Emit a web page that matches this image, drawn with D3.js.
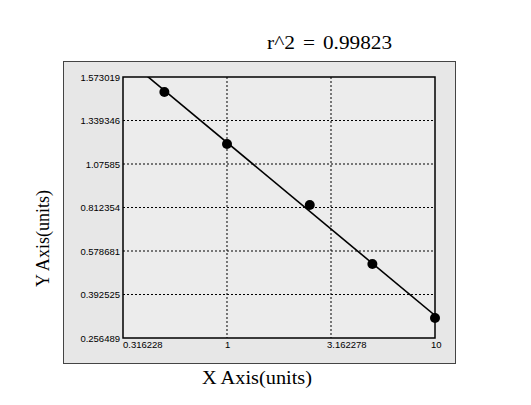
<!DOCTYPE html>
<html>
<head>
<meta charset="utf-8">
<script src="https://cdn.jsdelivr.net/npm/d3@7"></script>
<style>
  body { margin: 0; background: #fff; }
  svg { display: block; }
</style>
</head>
<body>
<div id="chart"></div>
<script>
'use strict';

// standard curve points
const concs  = [0.5, 1, 2.5, 5, 10];
const ods    = [1.492, 1.197, 0.827, 0.523, 0.319];
const xTicks = [0.316228, 1, 3.162278, 10];
const yTicks = [1.573019, 1.339346, 1.07585, 0.812354, 0.578681, 0.392525, 0.256489];
const rsq    = '0.99823';

const W = 531, H = 405;
const plot = {left: 123, top: 77, right: 435, bottom: 338};

const svg = d3.select('#chart')
  .append('svg')
  .attr('width', W)
  .attr('height', H);

// outer grey panel
svg.append('rect')
  .attr('x', 63.5).attr('y', 61.5)
  .attr('width', 392).attr('height', 302)
  .style('fill', '#e7e7e7')
  .style('stroke', '#444')
  .style('stroke-width', 1);

const x = d3.scaleLog()
  .domain([xTicks[0], xTicks[xTicks.length - 1]])
  .range([plot.left, plot.right]);

// y ticks sit at equal steps, so a piecewise linear scale through them
const ySteps = yTicks.map((t, i) => plot.top + i * (plot.bottom - plot.top) / (yTicks.length - 1));
const y = d3.scaleLinear()
  .domain(yTicks)
  .range(ySteps);

svg.append('rect')
  .attr('x', plot.left).attr('y', plot.top)
  .attr('width', plot.right - plot.left)
  .attr('height', plot.bottom - plot.top)
  .style('fill', '#ececec');

svg.append('clipPath').attr('id', 'clip')
  .append('rect')
  .attr('x', plot.left).attr('y', plot.top)
  .attr('width', plot.right - plot.left)
  .attr('height', plot.bottom - plot.top);

// grid
const grid = svg.append('g');
grid.selectAll()
  .data(xTicks.slice(1, -1))
  .enter()
  .append('line')
  .attr('x1', d => x(d)).attr('x2', d => x(d))
  .attr('y1', plot.top).attr('y2', plot.bottom)
  .style('stroke', '#000')
  .style('stroke-width', 1)
  .style('stroke-dasharray', '2,2');
grid.selectAll()
  .data(yTicks.slice(1, -1))
  .enter()
  .append('line')
  .attr('x1', plot.left).attr('x2', plot.right)
  .attr('y1', d => y(d)).attr('y2', d => y(d))
  .style('stroke', '#000')
  .style('stroke-width', 1)
  .style('stroke-dasharray', '2,2');

// fit line: least squares in screen space (log x vs y scale)
const px = concs.map(c => x(c));
const py = ods.map(o => y(o));
const mx = d3.mean(px), my = d3.mean(py);
const slope = d3.sum(px, (v, i) => (v - mx) * (py[i] - my)) / d3.sum(px, v => (v - mx) * (v - mx));
const fitX = [plot.left, plot.right];
svg.append('g').attr('clip-path', 'url(#clip)')
  .append('line')
  .attr('x1', fitX[0]).attr('x2', fitX[1])
  .attr('y1', my + slope * (fitX[0] - mx))
  .attr('y2', my + slope * (fitX[1] - mx))
  .style('stroke', '#000')
  .style('stroke-width', 1.6);

// points
svg.append('g').selectAll()
  .data(concs.map((c, i) => ({c: c, o: ods[i]})))
  .enter()
  .append('circle')
  .attr('cx', d => x(d.c))
  .attr('cy', d => y(d.o))
  .attr('r', 5)
  .style('fill', '#000');

// plot frame
svg.append('rect')
  .attr('x', plot.left).attr('y', plot.top)
  .attr('width', plot.right - plot.left)
  .attr('height', plot.bottom - plot.top)
  .style('fill', 'none')
  .style('stroke', '#000')
  .style('stroke-width', 1.5);

// tick labels
svg.append('g').selectAll()
  .data(yTicks)
  .enter()
  .append('text')
  .text(d => d)
  .attr('x', plot.left - 3)
  .attr('y', d => y(d) + 3.5)
  .attr('text-anchor', 'end')
  .style('font-family', 'Liberation Sans, Arial, sans-serif')
  .style('font-size', '9.5px')
  .style('fill', '#000');

svg.append('g').selectAll()
  .data(xTicks)
  .enter()
  .append('text')
  .text(d => d)
  .attr('x', (d, i) => x(d) - (i === 0 ? 0 : (i === 1 ? 2 : 4)))
  .attr('y', plot.bottom + 9.5)
  .attr('text-anchor', 'start')
  .style('font-family', 'Liberation Sans, Arial, sans-serif')
  .style('font-size', '9.5px')
  .style('fill', '#000');

// titles
const serif = 'Liberation Serif, Times New Roman, serif';
const rText = svg.append('text')
  .attr('y', 49)
  .style('font-family', serif)
  .style('font-size', '18px');
rText.append('tspan').text('r^2')
  .attr('x', 267).attr('textLength', 28).attr('lengthAdjust', 'spacingAndGlyphs');
rText.append('tspan').text('=')
  .attr('x', 303).attr('textLength', 12).attr('lengthAdjust', 'spacingAndGlyphs');
rText.append('tspan').text(rsq)
  .attr('x', 323).attr('textLength', 69).attr('lengthAdjust', 'spacingAndGlyphs');

svg.append('text')
  .text('X Axis(units)')
  .attr('x', 202).attr('y', 384)
  .attr('textLength', 110)
  .attr('lengthAdjust', 'spacingAndGlyphs')
  .style('font-family', serif)
  .style('font-size', '18px');

svg.append('text')
  .text('Y Axis(units)')
  .attr('transform', 'translate(49,287) rotate(-90)')
  .attr('textLength', 97)
  .attr('lengthAdjust', 'spacingAndGlyphs')
  .style('font-family', serif)
  .style('font-size', '18px');
</script>
</body>
</html>
